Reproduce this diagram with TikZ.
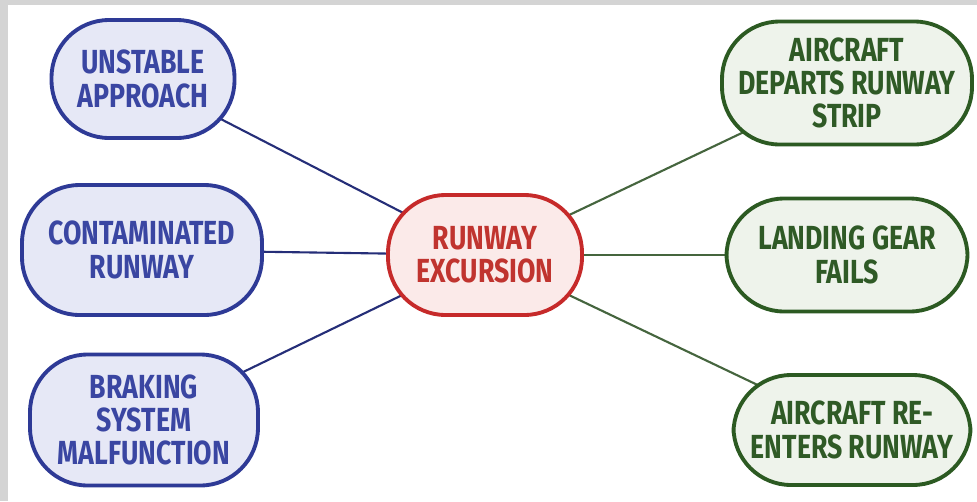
\documentclass[tikz,border=0pt]{standalone}
\usepackage{fontspec}
\setmainfont{Fira Sans}[FakeStretch=0.8]
\usetikzlibrary{backgrounds}

\definecolor{causeline}{HTML}{2E3A96}
\definecolor{causefill}{HTML}{E6E8F6}
\definecolor{causetext}{HTML}{3A46A2}
\definecolor{eventline}{HTML}{C62A2A}
\definecolor{eventfill}{HTML}{FBEAE9}
\definecolor{eventtext}{HTML}{C0342F}
\definecolor{effectline}{HTML}{2C5A22}
\definecolor{effectfill}{HTML}{EEF3EB}
\definecolor{effecttext}{HTML}{2F5A26}
\definecolor{frame}{HTML}{D4D4D4}

\begin{document}
\begin{tikzpicture}[x=0.02cm,y=-0.02cm,
  blob/.style={rectangle, rounded corners=1.15cm, line width=2.2pt, align=center,
    inner sep=0pt, font=\fontsize{19}{19}\selectfont\bfseries},
  causebox/.style={blob, draw=causeline, fill=causefill, text=causetext},
  eventbox/.style={blob, draw=eventline, fill=eventfill, text=eventtext},
  effectbox/.style={blob, draw=effectline, fill=effectfill, text=effecttext},
  causelink/.style={draw=causeline!80!black, line width=1.2pt},
  effectlink/.style={draw=effectline!70!gray, line width=1.2pt}]
\useasboundingbox (0,0) rectangle (977,501);

\node[eventbox, minimum width=3.88cm, minimum height=2.4cm] (excursion) at (485,255) {RUNWAY\\EXCURSION};

\node[causebox, minimum width=3.66cm, minimum height=2.36cm] (unstable) at (143,79) {UNSTABLE\\APPROACH};
\node[causebox, minimum width=4.8cm, minimum height=2.6cm] (contaminated) at (142,250) {CONTAMINATED\\RUNWAY};
\node[causebox, minimum width=4.56cm, minimum height=2.62cm] (braking) at (144,420) {BRAKING\\SYSTEM\\MALFUNCTION};

\node[effectbox, minimum width=5.0cm, minimum height=2.46cm] (departs) at (847,83) {AIRCRAFT\\DEPARTS RUNWAY\\STRIP};
\node[effectbox, minimum width=4.82cm, minimum height=2.26cm] (gear) at (847,255) {LANDING GEAR\\FAILS};
\node[effectbox, minimum width=4.74cm, minimum height=2.2cm] (reenters) at (852,430) {AIRCRAFT RE-\\ENTERS RUNWAY};

% page, frame and links behind the blobs
\begin{scope}[on background layer]
\fill[white] (0,0) rectangle (977,501);
\fill[frame] (0,0) rectangle (977,5);
\fill[frame] (0,0) rectangle (8,501);
\draw[causelink] (unstable.center) -- (excursion.center);
\draw[causelink] (contaminated.center) -- (excursion.center);
\draw[causelink] (braking.center) -- (excursion.center);
\draw[effectlink] (excursion.center) -- (departs.center);
\draw[effectlink] (excursion.center) -- (gear.center);
\draw[effectlink] (excursion.center) -- (reenters.center);
\end{scope}

\end{tikzpicture}
\end{document}
